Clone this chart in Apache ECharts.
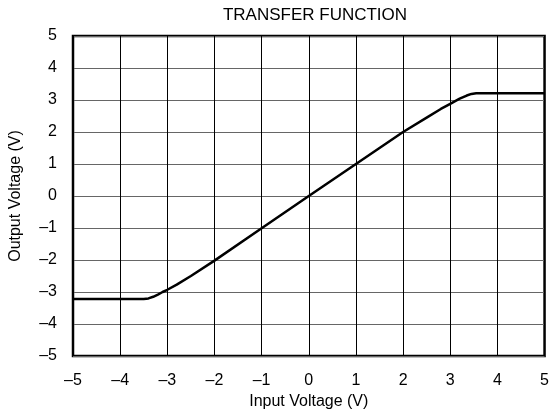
<!DOCTYPE html>
<html><head><meta charset="utf-8">
<script src="https://cdn.jsdelivr.net/npm/echarts@6/dist/echarts.min.js"></script>
<style>html,body{margin:0;padding:0;background:#fff}#c{width:552px;height:420px}</style>
</head><body><div id="c"></div>
<script>
var title = "TRANSFER FUNCTION";
var xName = "Input Voltage (V)";
var yName = "Output Voltage (V)";
var inputV  = [-5, -3.5, -3.4, -3.3, -3.2, -3.1, -3.0, -2.8, -2.5, -2, -1, 0, 1, 2, 2.5, 2.8, 3.0, 3.2, 3.35, 3.45, 3.55, 5];
var outputV = [-3.22, -3.22, -3.2, -3.15, -3.08, -3.0, -2.93, -2.77, -2.5, -2.02, -1.01, 0, 1.0, 2.0, 2.45, 2.72, 2.88, 3.04, 3.14, 3.19, 3.21, 3.21];
var fmt = function(v){ return String(v).replace('-', '\u2013'); };
var font = "Liberation Sans, Arial, sans-serif";
var chart = echarts.init(document.getElementById('c'));
chart.setOption({
  animation: false,
  title: { text: title, left: 310, textAlign: 'center', top: 2,
    textStyle: { fontFamily: font, fontSize: 17, fontWeight: 'normal', color: '#000' } },
  grid: { left: 73, right: 7, top: 36, bottom: 64, show: true, borderColor: '#000', borderWidth: 2.5 },
  xAxis: { type: 'value', min: -5, max: 5, interval: 1, name: xName, nameLocation: 'middle', nameGap: 35,
    nameTextStyle: { fontFamily: font, fontSize: 16, color: '#000' },
    axisLine: { show: false }, axisTick: { show: false },
    axisLabel: { formatter: fmt, fontFamily: font, fontSize: 16, color: '#000', margin: 17 },
    splitLine: { lineStyle: { color: '#000', width: 1 } } },
  yAxis: { type: 'value', min: -5, max: 5, interval: 1, name: yName, nameLocation: 'middle', nameGap: 49,
    nameTextStyle: { fontFamily: font, fontSize: 16, color: '#000' },
    axisLine: { show: false }, axisTick: { show: false },
    axisLabel: { formatter: fmt, fontFamily: font, fontSize: 16, color: '#000', margin: 16 },
    splitLine: { lineStyle: { color: '#666', width: 1 } } },
  series: [{ type: 'line', data: inputV.map(function(x,i){ return [x, outputV[i]]; }),
    showSymbol: false, smooth: false, lineStyle: { color: '#000', width: 2.5 } }]
});
</script></body></html>
